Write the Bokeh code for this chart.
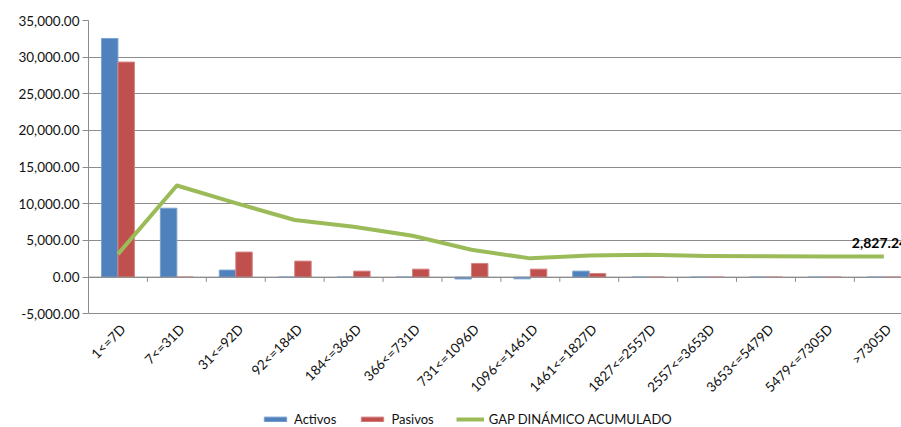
import math
from bokeh.plotting import figure
from bokeh.models import (Range1d, FixedTicker, NumeralTickFormatter, Legend, LegendItem,
                          ColumnDataSource, Span)
from bokeh.core.properties import value
from bokeh.embed import file_html
from bokeh.resources import INLINE

categories = ["1<=7D", "7<=31D", "31<=92D", "92<=184D", "184<=366D", "366<=731D",
              "731<=1096D", "1096<=1461D", "1461<=1827D", "1827<=2557D",
              "2557<=3653D", "3653<=5479D", "5479<=7305D", ">7305D"]
activos = [32550, 9400, 960, 0, 0, 0, -250, -230, 820, 0, 0, 0, 0, 0]
pasivos = [29330, 0, 3420, 2190, 820, 1090, 1870, 1090, 500, 0, 0, 0, 0, 0]
gap = [3140, 12500, 10100, 7790, 6870, 5640, 3730, 2560, 2950, 3040, 2880, 2840, 2830, 2827.24]
y_ticks = [-5000, 0, 5000, 10000, 15000, 20000, 25000, 30000, 35000]

FONT = "Lato"
GRID = "#8c8c8c"

Y_MIN, Y_MAX = -5000, 35000
W, H = 901, 427
TOP, LEFT = 20, 88
AXIS_PX = 293.3                      # pixel height of the -5000..35000 span
units_per_px = (Y_MAX - Y_MIN) / AXIS_PX
y_low = Y_MIN - units_per_px * (H - TOP - AXIS_PX)

centers = [i + 0.5 for i in range(len(categories))]
bar_w = 0.28

p = figure(width=W, height=H, output_backend="svg", toolbar_location=None,
           x_range=Range1d(0, 13.8), y_range=Range1d(y_low, Y_MAX),
           x_axis_location=None,
           min_border_left=LEFT, min_border_right=0, min_border_top=TOP, min_border_bottom=0)
p.outline_line_color = None
p.background_fill_color = "white"

src = ColumnDataSource(dict(
    xa=[c - bar_w / 2 for c in centers],
    xp=[c + bar_w / 2 for c in centers],
    xc=centers, a=activos, p=pasivos, g=gap))

ra = p.vbar(x="xa", top="a", bottom=0, width=bar_w, source=src,
            fill_color="#4F81BD", line_color="#7DA2CF", line_width=1)
rp = p.vbar(x="xp", top="p", bottom=0, width=bar_w, source=src,
            fill_color="#C0504D", line_color="#D58583", line_width=1)

# zero axis line and category boundary ticks
p.add_layout(Span(location=0, dimension="width", line_color=GRID, line_width=1))
bounds = list(range(1, len(categories)))
p.segment(x0=bounds, y0=[0] * len(bounds), x1=bounds, y1=[-650] * len(bounds),
          line_color=GRID, line_width=1)

rl = p.line(x="xc", y="g", source=src, line_color="#9BBB59", line_width=4,
            line_join="round")

p.text(x=[centers[-1]], y=[gap[-1]], text=[f"{gap[-1]:,.2f}"],
       text_font=value(FONT), text_font_size="14px", text_font_style="bold",
       text_align="left", text_baseline="bottom", x_offset=-32, y_offset=-8,
       text_color="#000000")

# category labels (rotated, below the -5000 line)
p.text(x=centers, y=[Y_MIN] * len(centers), text=categories, angle=math.pi / 4,
       text_font=value(FONT), text_font_size="13.5px", text_color="#111111",
       text_align="right", text_baseline="middle", x_offset=5, y_offset=13)

# y axis
p.yaxis.ticker = FixedTicker(ticks=y_ticks)
p.yaxis.bounds = (Y_MIN, Y_MAX)
p.yaxis.formatter = NumeralTickFormatter(format="0,0.00")
p.yaxis.major_label_text_font = FONT
p.yaxis.major_label_text_font_size = "13.5px"
p.yaxis.major_label_text_color = "#111111"
p.yaxis.axis_line_color = GRID
p.yaxis.major_tick_line_color = GRID
p.yaxis.major_tick_out = 6
p.yaxis.major_tick_in = 0
p.yaxis.minor_tick_line_color = None
p.yaxis.major_label_standoff = 3

p.xgrid.grid_line_color = None
p.ygrid.ticker = FixedTicker(ticks=y_ticks)
p.ygrid.grid_line_color = GRID
p.ygrid.grid_line_width = 1

legend = Legend(items=[LegendItem(label="Activos", renderers=[ra]),
                       LegendItem(label="Pasivos", renderers=[rp]),
                       LegendItem(label="GAP DINÁMICO ACUMULADO", renderers=[rl])],
                orientation="horizontal", location=(173, 0),
                label_text_font=FONT, label_text_font_size="13px", label_text_color="#111111",
                glyph_width=28, glyph_height=6, label_standoff=5, spacing=22,
                background_fill_alpha=0, border_line_color=None, padding=0,
                margin=0)
p.add_layout(legend, "center")

open("out.html", "w").write(file_html(p, INLINE))
